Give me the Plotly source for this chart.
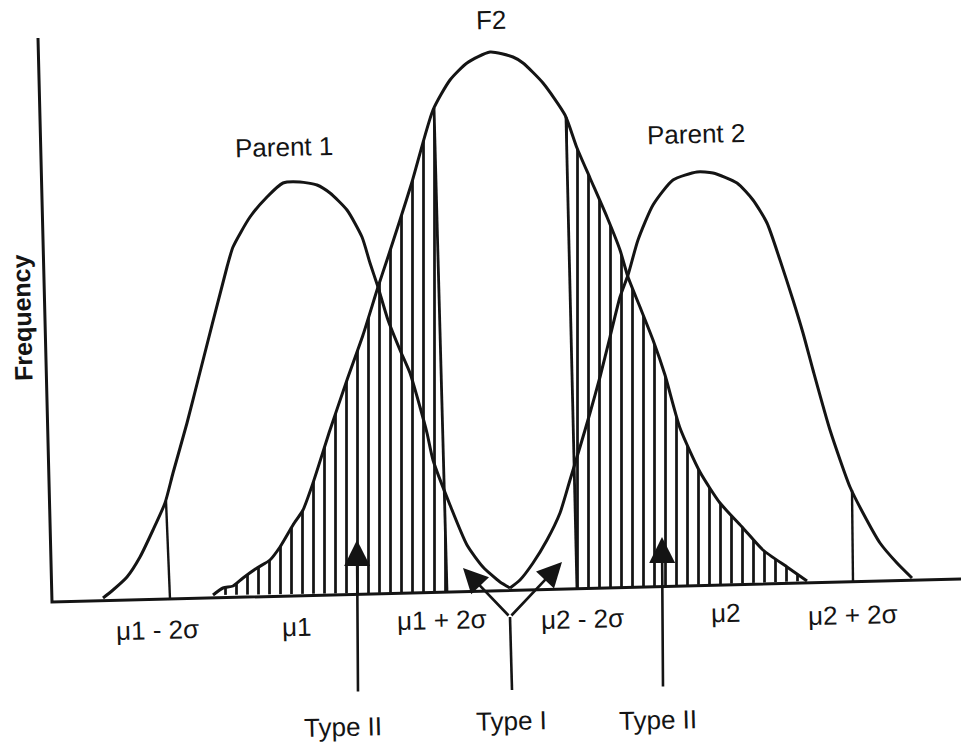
import plotly.graph_objects as go

# ---- distributions (trait value on x, frequency on y; baseline near y = 0) ----
P1_X = [103, 113, 127, 140, 153, 165, 173, 187, 198, 227, 233, 250, 267, 283, 300, 317,
        330, 347, 362, 370, 378, 388, 400, 410, 420, 427, 433, 450, 467, 483, 500, 510]
P1_Y = [2, 10, 23, 43, 70, 97, 127, 177, 220, 333, 353, 383, 403, 417, 418, 415,
        407, 390, 363, 337, 313, 280, 250, 227, 193, 167, 140, 95, 55, 33, 18, 12]

F2_X = [213, 223, 233, 243, 257, 270, 280, 293, 303, 313, 330, 347, 363, 378, 387, 400,
        412, 433, 450, 467, 490, 513, 523, 543, 565, 577, 590, 607, 620, 628, 640, 653,
        665, 680, 700, 720, 743, 763, 787, 807]
F2_Y = [5, 12, 14, 22, 32, 40, 53, 75, 90, 117, 170, 220, 265, 313, 340, 380,
        418, 490, 520, 537, 548, 543, 537, 517, 485, 452, 422, 383, 350, 323, 293, 260,
        225, 172, 128, 97, 72, 50, 33, 19]

P2_X = [510, 520, 533, 547, 560, 570, 580, 590, 600, 610, 620, 628, 638, 653, 673, 697,
        713, 737, 753, 767, 780, 793, 803, 813, 830, 850, 863, 880, 897, 912]
P2_Y = [12, 20, 37, 60, 87, 120, 153, 187, 223, 263, 303, 325, 360, 395, 420, 428,
        427, 417, 400, 377, 340, 300, 267, 230, 170, 113, 87, 57, 37, 22]

# frame: y-axis top -> origin -> end of trait axis
FRAME_X = [38, 52, 961]
FRAME_Y = [562, -2, 21]

# mu1 - 2 sigma and mu2 + 2 sigma drop lines
SIG_LO_X, SIG_LO_Y = [166, 170], [99, 1]
SIG_HI_X, SIG_HI_Y = [852, 853], [110, 18]

# truncation points of the hatched F2 tails
CUT_L_X, CUT_L_Y = [434, 447], [492, 8]
CUT_R_X, CUT_R_Y = [577, 566], [11, 483]

# error arrows (tail -> tip)
TYPE2_TAIL_X, TYPE2_TAIL_Y = [358, 663], [-93, -88]
TYPE2_TIP_X, TYPE2_TIP_Y = [357, 662], [60, 63]
TYPE1_STEM_X, TYPE1_STEM_Y = [512, 510], [-90, -17]
TYPE1_TIP_X, TYPE1_TIP_Y = [463, 562], [32, 38]

# text
CURVE_LABELS = ["Parent 1", "F2", "Parent 2"]
CURVE_LABEL_X = [284, 491, 696]
CURVE_LABEL_Y = [453, 580, 466]

TICK_TEXT = ["\u03bc1 - 2\u03c3", "\u03bc1", "\u03bc1 + 2\u03c3",
             "\u03bc2 - 2\u03c3", "\u03bc2", "\u03bc2 + 2\u03c3"]
TICK_X = [157, 296, 442, 582, 725, 853]
TICK_Y = [-30, -27, -20, -19, -13, -15]

ERR_TEXT = ["Type II", "Type I", "Type II"]
ERR_X = [343, 511, 658]
ERR_Y = [-127, -121, -120]

INK = "#141414"
FONT = "Liberation Sans, Arial, Helvetica, sans-serif"
TILT = -1.4

fig = go.Figure()

# hatched tails of the F2 distribution
left = [(x, y) for x, y in zip(F2_X, F2_Y) if x < CUT_L_X[0]]
right = [(x, y) for x, y in zip(F2_X, F2_Y) if x > CUT_R_X[1]]
hatch = dict(shape="|", size=11, solidity=0.25, fgcolor=INK, fgopacity=1,
             bgcolor="rgba(0,0,0,0)", fillmode="replace")
fig.add_trace(go.Scatter(
    x=[p[0] for p in left] + CUT_L_X, y=[p[1] for p in left] + CUT_L_Y,
    mode="lines", fill="toself", fillcolor="rgba(0,0,0,0)", fillpattern=hatch,
    line=dict(width=0), hoverinfo="skip"))
fig.add_trace(go.Scatter(
    x=CUT_R_X + [p[0] for p in right], y=CUT_R_Y + [p[1] for p in right],
    mode="lines", fill="toself", fillcolor="rgba(0,0,0,0)", fillpattern=hatch,
    line=dict(width=0), hoverinfo="skip"))

# curves
for xs, ys in [(P1_X, P1_Y), (F2_X, F2_Y), (P2_X, P2_Y)]:
    fig.add_trace(go.Scatter(x=xs, y=ys, mode="lines",
                             line=dict(color=INK, width=3, shape="spline", smoothing=0.6),
                             hoverinfo="skip"))

# axes frame, cut lines, sigma lines, Type I stem
for xs, ys, w in [(FRAME_X, FRAME_Y, 3), (CUT_L_X, CUT_L_Y, 2.8), (CUT_R_X, CUT_R_Y, 2.8),
                  (SIG_LO_X, SIG_LO_Y, 2.4), (SIG_HI_X, SIG_HI_Y, 2.4),
                  (TYPE1_STEM_X, TYPE1_STEM_Y, 2.6)]:
    fig.add_trace(go.Scatter(x=xs, y=ys, mode="lines",
                             line=dict(color=INK, width=w), hoverinfo="skip"))

ann = []
arrow_style = dict(showarrow=True, arrowhead=2, arrowsize=2.0, arrowwidth=2.6,
                   arrowcolor=INK, axref="x", ayref="y", xref="x", yref="y", text="")
for tx, ty, hx, hy in zip(TYPE2_TAIL_X, TYPE2_TAIL_Y, TYPE2_TIP_X, TYPE2_TIP_Y):
    ann.append(dict(x=hx, y=hy, ax=tx, ay=ty, **arrow_style))
for hx, hy in zip(TYPE1_TIP_X, TYPE1_TIP_Y):
    ann.append(dict(x=hx, y=hy, ax=TYPE1_STEM_X[1], ay=TYPE1_STEM_Y[1],
                    **dict(arrow_style, arrowsize=1.9)))

def label(text, x, y, size, angle=TILT, bold=False):
    return dict(x=x, y=y, xref="x", yref="y", text=f"<b>{text}</b>" if bold else text,
                showarrow=False, textangle=angle, xanchor="center", yanchor="middle",
                font=dict(family=FONT, size=size, color=INK))

for t, x, y in zip(CURVE_LABELS, CURVE_LABEL_X, CURVE_LABEL_Y):
    ann.append(label(t, x, y, 26))
for t, x, y in zip(TICK_TEXT, TICK_X, TICK_Y):
    ann.append(label(t, x, y, 26))
for t, x, y in zip(ERR_TEXT, ERR_X, ERR_Y):
    ann.append(label(t, x, y, 26))
ann.append(label("Frequency", 22, 282, 25, angle=-90 + TILT, bold=True))

fig.update_layout(
    width=961, height=748, margin=dict(l=0, r=0, t=0, b=0),
    paper_bgcolor="white", plot_bgcolor="white", showlegend=False,
    xaxis=dict(visible=False, range=[0, 961], fixedrange=True),
    yaxis=dict(visible=False, range=[-148, 600], fixedrange=True),
    annotations=ann,
)

fig.write_html("out.html")
